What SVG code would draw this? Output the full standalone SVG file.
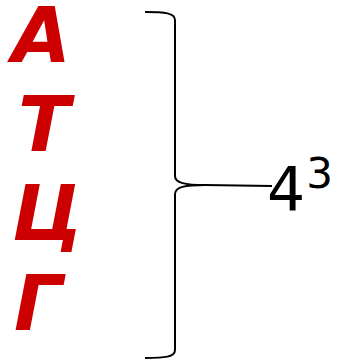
<svg xmlns="http://www.w3.org/2000/svg" width="338" height="363" viewBox="0 0 338 363">
<style>
.l{font-family:"DejaVu Sans",sans-serif;font-weight:bold;font-style:italic;font-size:76px;fill:#cc0000}
.n{font-family:"DejaVu Sans",sans-serif;fill:#000}
.b{fill:none;stroke:#000;stroke-width:2}
</style>
<rect width="338" height="363" fill="#fff"/>
<g id="A"><text class="l" x="12" y="62">А</text></g>
<g id="T"><text class="l" x="18" y="151">Т</text></g>
<g id="C"><text class="l" x="12" y="240">Ц</text></g>
<g id="G"><text class="l" x="14" y="330">Г</text></g>
<g id="connectors">
<path class="b" d="M145,12 C165,12 175,13 175,20 L175,176 C175,183 185,185 205,185 L272,186"/>
<path class="b" d="M205,185 C185,185 175,187 175,194 L175,350 C175,357 165,358 145,358"/>
</g>
<g id="count"><text class="n" x="267" y="210" font-size="60">4<tspan font-size="42" dx="1" dy="-22">3</tspan></text></g>
</svg>
